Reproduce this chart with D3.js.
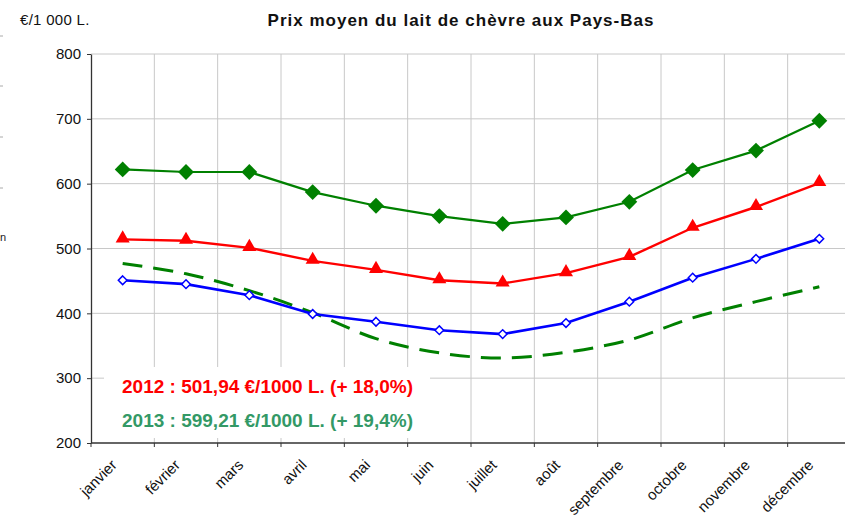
<!DOCTYPE html>
<html lang="fr">
<head>
<meta charset="UTF-8">
<title>Prix moyen du lait de chèvre aux Pays-Bas</title>
<script src="https://cdn.jsdelivr.net/npm/d3@7"></script>
<style>
  body { margin: 0; background: #fff; }
  svg { display: block; font-family: "Liberation Sans", Arial, sans-serif; }
</style>
</head>
<body>
<svg id="chart" width="845" height="520"></svg>
<script>
// données
var mois = ["janvier", "février", "mars", "avril", "mai", "juin", "juillet", "août", "septembre", "octobre", "novembre", "décembre"]
var serie2013 = [622, 618, 618, 587, 566, 550, 538, 548, 572, 621, 651, 697]
var serie2012 = [514, 512, 501, 481, 467, 451, 446, 462, 487, 532, 564, 601]
var serieBleue = [451, 445, 428, 399, 387, 374, 368, 385, 418, 455, 484, 515]
var serieTirets = [477, 461, 435, 401, 361, 339, 331, 340, 359, 393, 418, 441]
var yTicks = [200, 300, 400, 500, 600, 700, 800]
var legende = ["2012 : 501,94 €/1000 L. (+ 18,0%)", "2013 : 599,21 €/1000 L. (+ 19,4%)"]

var svg = d3.select("#chart")

var x = d3.scaleBand().domain(mois).range([91, 851])
var y = d3.scaleLinear().domain([200, 800]).range([443, 54])
var cx = function (d, i) { return x(mois[i]) + x.bandwidth() / 2 }

// bouts coupés sur le bord gauche
svg.selectAll(".bord").data([36, 86, 137, 188]).enter().append("line")
  .attr("x1", 0).attr("x2", 3).attr("y1", function (d) { return d }).attr("y2", function (d) { return d })
  .attr("stroke", "#aaa")
svg.append("text").attr("x", 0).attr("y", 241).attr("font-size", 11).attr("fill", "#222").text("n")

// grille
svg.append("g").selectAll("line").data(yTicks.slice(1)).enter().append("line")
  .attr("x1", 91).attr("x2", 851)
  .attr("y1", function (d) { return y(d) }).attr("y2", function (d) { return y(d) })
  .attr("stroke", "#c8c8c8")
svg.append("g").selectAll("line").data(mois.slice(1)).enter().append("line")
  .attr("x1", function (d) { return x(d) }).attr("x2", function (d) { return x(d) })
  .attr("y1", 54).attr("y2", 443)
  .attr("stroke", "#c8c8c8")

// boîte du texte (cache la grille)
svg.append("rect").attr("x", 104).attr("y", 367).attr("width", 326).attr("height", 71).attr("fill", "#fff")

// axes
svg.append("g").attr("transform", "translate(91,0)")
  .call(d3.axisLeft(y).tickValues(yTicks).tickSize(4).tickSizeOuter(0).tickPadding(6))
  .call(function (g) {
    g.select(".domain").attr("stroke", "#333").attr("stroke-width", 1.3)
    g.selectAll(".tick line").attr("stroke", "#333")
    g.selectAll("text").attr("font-size", 15).attr("fill", "#111").attr("font-family", "Liberation Sans, Arial, sans-serif")
  })

var xAxis = svg.append("g").attr("transform", "translate(0,443)")
xAxis.append("line").attr("x1", 91).attr("x2", 851).attr("stroke", "#333").attr("stroke-width", 1.3)
xAxis.selectAll(".tk").data(mois.concat(["fin"])).enter().append("line")
  .attr("x1", function (d, i) { return i < mois.length ? x(d) : x.range()[1] })
  .attr("x2", function (d, i) { return i < mois.length ? x(d) : x.range()[1] })
  .attr("y1", 0).attr("y2", 4).attr("stroke", "#333")
xAxis.selectAll(".lbl").data(mois).enter().append("text")
  .attr("transform", function (d) { return "translate(" + (x(d) + x.bandwidth() / 2 - 5) + ",23) rotate(-45)" })
  .attr("text-anchor", "end")
  .attr("font-size", 15).attr("fill", "#111")
  .text(function (d) { return d })

// titres
svg.append("text").attr("x", 461).attr("y", 26).attr("text-anchor", "middle")
  .attr("font-size", 17).attr("font-weight", "bold").attr("fill", "#111").attr("letter-spacing", 1)
  .text("Prix moyen du lait de chèvre aux Pays-Bas")
svg.append("text").attr("x", 20).attr("y", 25).attr("font-size", 15).attr("fill", "#111")
  .attr("letter-spacing", 0.3).text("€/1 000 L.")

// courbes
var ligne = d3.line().x(cx).y(function (d) { return y(d) })
var lisse = d3.line().x(cx).y(function (d) { return y(d) }).curve(d3.curveCatmullRom.alpha(0.5))

svg.append("path").datum(serieTirets).attr("d", lisse).attr("fill", "none")
  .attr("stroke", "#008000").attr("stroke-width", 3).attr("stroke-dasharray", "20,11")
svg.append("path").datum(serieBleue).attr("d", ligne).attr("fill", "none")
  .attr("stroke", "#0000ff").attr("stroke-width", 2.6)
svg.append("path").datum(serie2012).attr("d", ligne).attr("fill", "none")
  .attr("stroke", "#ff0000").attr("stroke-width", 2.4)
svg.append("path").datum(serie2013).attr("d", ligne).attr("fill", "none")
  .attr("stroke", "#008000").attr("stroke-width", 2.2)

// marqueurs
var losange = d3.symbol().type(d3.symbolDiamond2)
var triangle = d3.symbol().type(d3.symbolTriangle)
svg.append("g").selectAll("path").data(serieBleue).enter().append("path")
  .attr("d", losange.size(48))
  .attr("transform", function (d, i) { return "translate(" + cx(d, i) + "," + y(d) + ")" })
  .attr("fill", "#fff").attr("stroke", "#0000ff").attr("stroke-width", 1.5)
svg.append("g").selectAll("path").data(serie2012).enter().append("path")
  .attr("d", triangle.size(85))
  .attr("transform", function (d, i) { return "translate(" + cx(d, i) + "," + (y(d) - 1) + ")" })
  .attr("fill", "#ff0000")
svg.append("g").selectAll("path").data(serie2013).enter().append("path")
  .attr("d", d3.symbol().type(d3.symbolDiamond2).size(160))
  .attr("transform", function (d, i) { return "translate(" + cx(d, i) + "," + y(d) + ")" })
  .attr("fill", "#008000")

// légende
svg.append("text").attr("x", 122).attr("y", 393).attr("font-size", 19).attr("font-weight", "bold")
  .attr("fill", "#ff0000").text(legende[0])
svg.append("text").attr("x", 122).attr("y", 427).attr("font-size", 19).attr("font-weight", "bold")
  .attr("fill", "#339966").text(legende[1])
</script>
</body>
</html>
